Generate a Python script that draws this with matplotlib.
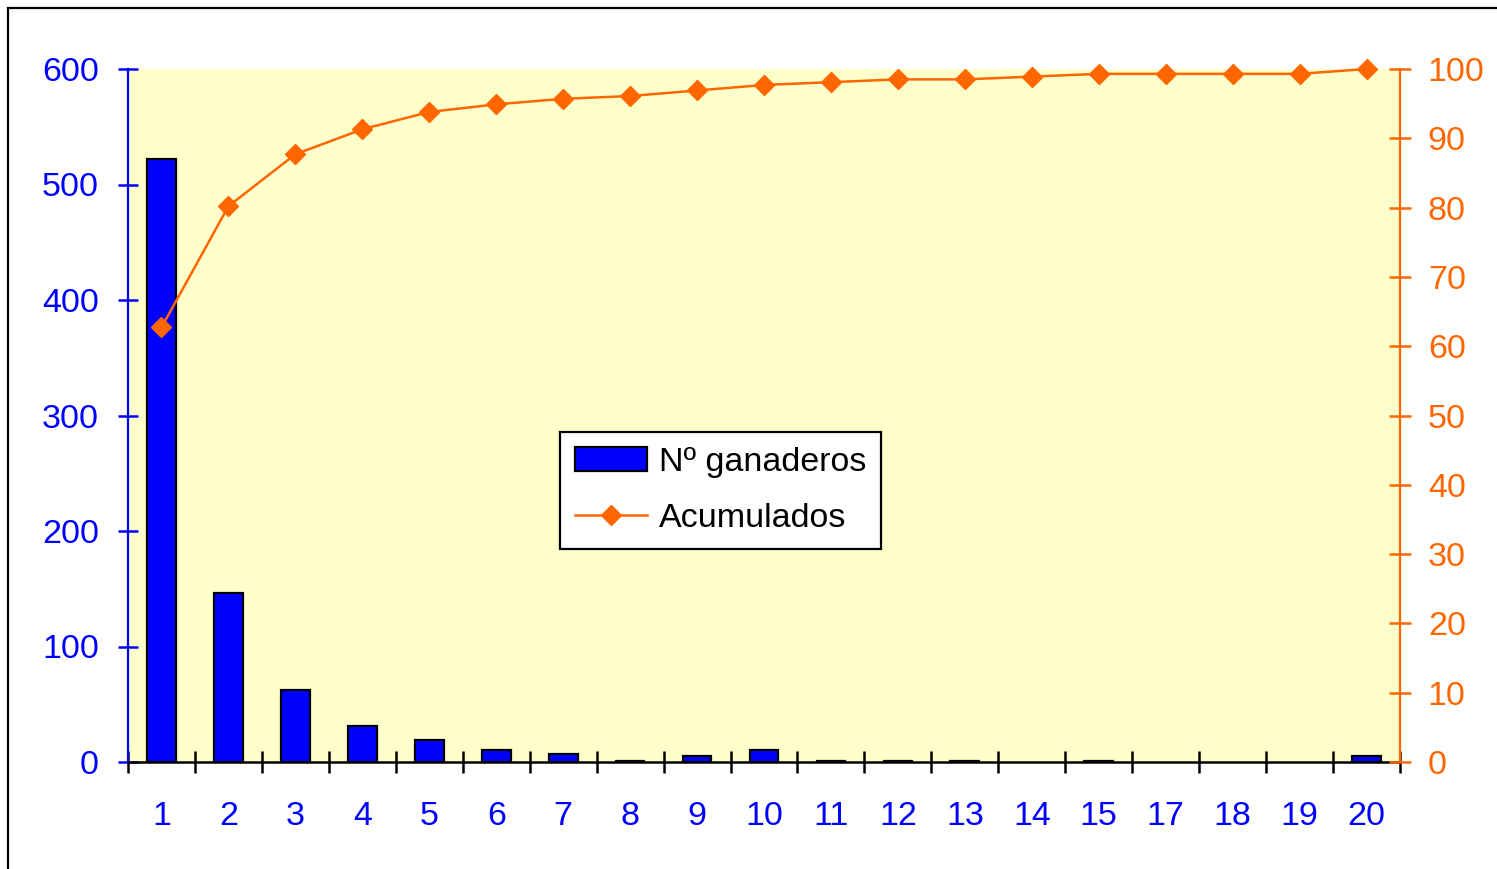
import matplotlib
matplotlib.use("Agg")
import matplotlib.pyplot as plt
from matplotlib.patches import Rectangle
import numpy as np

plt.rcParams["font.family"] = ["Liberation Sans", "DejaVu Sans"]

# categories (16 is absent in the original)
CATEGORIES = ["1", "2", "3", "4", "5", "6", "7", "8", "9", "10",
              "11", "12", "13", "14", "15", "17", "18", "19", "20"]
# Nº ganaderos (bars, left axis)
GANADEROS = [522, 146, 62, 31, 19, 10, 7, 1, 5, 10,
             1, 1, 1, 0, 1, 0, 0, 0, 5]
# Acumulados (% line, right axis)
ACUMULADOS = [62.7, 80.2, 87.7, 91.3, 93.8, 94.9, 95.7, 96.1, 96.9, 97.7,
              98.1, 98.5, 98.5, 98.9, 99.3, 99.3, 99.3, 99.3, 100.0]

BLUE = "#0000FF"
ORANGE = "#FF6600"
FS = 24.5

W, H = 1497, 869
fig = plt.figure(figsize=(W / 100, H / 100), dpi=100)

# outer frame
fig.patches.append(Rectangle((8 / W, -0.01), 1.2, 1 - 8 / H + 0.01,
                             transform=fig.transFigure, fill=False,
                             edgecolor="black", lw=1.6))

ax = fig.add_axes([128 / W, 1 - 762 / H, (1400 - 128) / W, (762 - 69) / H])
ax.set_facecolor("#FFFFCC")

x = np.arange(len(CATEGORIES))
edge_w = [1.6 if v > 0 else 0 for v in GANADEROS]
ax.bar(x, GANADEROS, width=0.43, color=BLUE, edgecolor="black",
       linewidth=edge_w, label="Nº ganaderos", zorder=2)
ax.set_xlim(-0.5, len(CATEGORIES) - 0.5)
ax.set_ylim(0, 600)
ax.set_yticks(range(0, 601, 100))

ax.set_xticks(x)
ax.set_xticklabels(CATEGORIES)
ax.set_xticks(np.arange(-0.5, len(CATEGORIES)), minor=True)
ax.tick_params(axis="x", which="major", length=0, pad=28,
               labelsize=FS, labelcolor=BLUE)
ax.tick_params(axis="x", which="minor", direction="inout", length=16,
               width=1.8, color="black")
ax.tick_params(axis="y", direction="inout", length=14, width=1.8,
               color=BLUE, labelcolor=BLUE, labelsize=FS, pad=14)

for s in ["top", "right"]:
    ax.spines[s].set_visible(False)
ax.spines["left"].set_color(BLUE)
ax.spines["left"].set_linewidth(1.6)
ax.spines["bottom"].set_color("black")
ax.spines["bottom"].set_linewidth(1.8)

ax2 = ax.twinx()
ax2.plot(x, ACUMULADOS, color=ORANGE, lw=1.8, marker="D", ms=10,
         label="Acumulados", clip_on=False, zorder=3)
ax2.set_ylim(0, 100)
ax2.set_yticks(range(0, 101, 10))
ax2.tick_params(axis="y", direction="inout", length=16, width=1.8,
                color=ORANGE, labelcolor=ORANGE, labelsize=FS, pad=12)
for s in ["top", "left", "bottom"]:
    ax2.spines[s].set_visible(False)
ax2.spines["right"].set_color(ORANGE)
ax2.spines["right"].set_linewidth(1.6)

h1, l1 = ax.get_legend_handles_labels()
h2, l2 = ax2.get_legend_handles_labels()
leg = ax2.legend(h1 + h2, l1 + l2, loc="center", bbox_to_anchor=(0.466, 0.392),
                 fontsize=FS, frameon=True, fancybox=False, framealpha=1,
                 edgecolor="black", handlelength=2.1, handletextpad=0.35,
                 borderpad=0.45, labelspacing=0.72, borderaxespad=0)
leg.get_frame().set_linewidth(1.6)

fig.savefig("out.png", dpi=100)
